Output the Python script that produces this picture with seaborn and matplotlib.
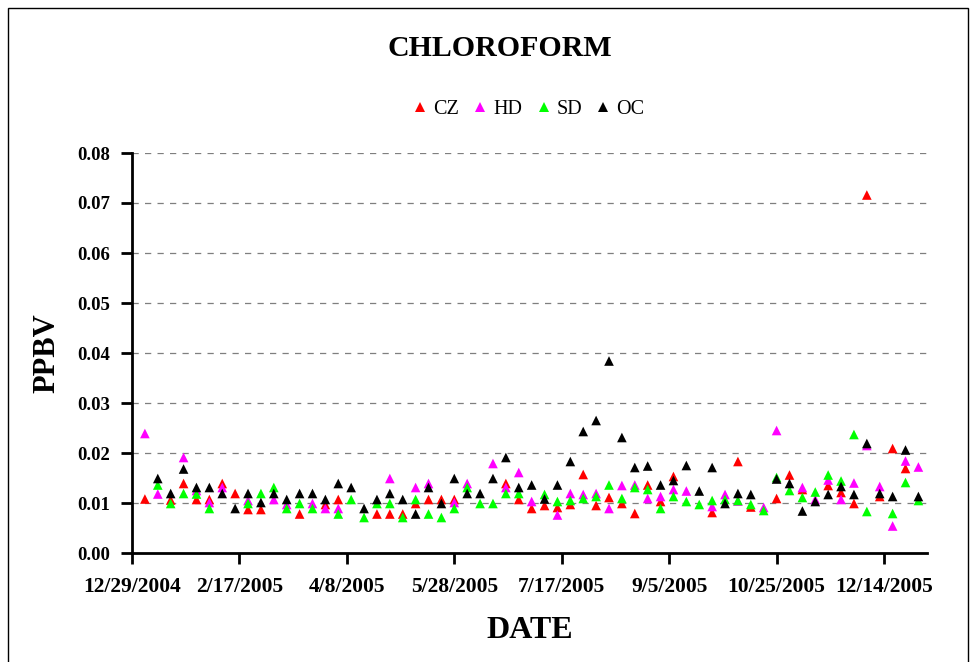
import matplotlib
matplotlib.use("Agg")
import matplotlib.pyplot as plt
from matplotlib.patches import Rectangle
import numpy as np
import pandas as pd
import seaborn as sns

# -------------------------------------------------------------------
# Data: 1-in-6 day samples, Jan 4 2005 .. Dec 30 2005 (PPBV)
# -------------------------------------------------------------------
nan = np.nan
sample_dates = pd.date_range("2005-01-04", periods=61, freq="6D")

cz = [0.0108, nan, 0.0106, 0.0139, 0.0107, 0.0107, 0.0139, 0.0119, 0.0087, 0.0087,
      nan, nan, 0.0078, nan, 0.0097, 0.0107, nan, nan, 0.0078, 0.0078,
      0.0078, 0.0099, 0.0107, 0.0107, 0.0107, nan, nan, nan, 0.0139, 0.0107,
      0.0089, 0.0095, 0.0091, 0.0097, 0.0157, 0.0095, 0.0111, 0.0099, 0.0079, 0.0136,
      0.0103, 0.0153, nan, nan, 0.0081, nan, 0.0183, 0.0092, nan, 0.0109,
      0.0156, 0.0127, nan, 0.0135, 0.0121, 0.0099, 0.0716, 0.0113, 0.0209, 0.0169,
      nan]
hd = [0.0239, 0.0118, nan, 0.0191, 0.0125, 0.0101, 0.0131, nan, 0.0105, nan,
      0.0107, 0.0097, nan, 0.0099, 0.0089, 0.0089, nan, nan, nan, 0.0149,
      nan, 0.0131, 0.0139, nan, 0.0101, 0.0139, nan, 0.0179, 0.0131, 0.0161,
      0.0103, nan, 0.0076, 0.0119, 0.0117, 0.0119, 0.0089, 0.0135, 0.0136, 0.0109,
      0.0113, 0.0127, 0.0124, nan, 0.0093, 0.0117, 0.0104, nan, 0.0091, 0.0245,
      nan, 0.0131, 0.0107, 0.0146, 0.0107, 0.0140, 0.0215, 0.0133, 0.0054, 0.0184,
      0.0172]
sd = [nan, 0.0136, 0.0099, 0.0119, 0.0118, 0.0089, nan, nan, 0.0099, 0.0119,
      0.0131, 0.0089, 0.0099, 0.0089, nan, 0.0078, 0.0107, 0.0071, 0.0099, 0.0099,
      0.0071, 0.0107, 0.0078, 0.0071, 0.0089, 0.0131, 0.0099, 0.0099, 0.0119, 0.0119,
      nan, 0.0117, 0.0103, 0.0105, 0.0109, 0.0113, 0.0136, 0.0109, 0.0131, 0.0127,
      0.0089, 0.0113, 0.0103, 0.0097, 0.0105, 0.0107, 0.0105, 0.0097, 0.0085, 0.0151,
      0.0125, 0.0111, 0.0122, 0.0156, 0.0144, 0.0237, 0.0083, nan, 0.0079, 0.0141,
      0.0105]
oc = [nan, 0.0149, 0.0119, 0.0168, 0.0131, 0.0131, 0.0119, 0.0089, 0.0119, 0.0101,
      0.0119, 0.0107, 0.0119, 0.0119, 0.0107, 0.0139, 0.0131, 0.0089, 0.0107, 0.0119,
      0.0107, 0.0078, 0.0131, 0.0099, 0.0149, 0.0119, 0.0119, 0.0149, 0.0191, 0.0131,
      0.0136, 0.0108, 0.0136, 0.0183, 0.0243, 0.0265, 0.0384, 0.0231, 0.0171, 0.0174,
      0.0136, 0.0145, 0.0175, 0.0124, 0.0171, 0.0099, 0.0119, 0.0117, nan, 0.0148,
      0.0139, 0.0084, 0.0103, 0.0117, 0.0133, 0.0117, 0.0219, 0.0119, 0.0113, 0.0206,
      0.0113]

sites = ["CZ", "HD", "SD", "OC"]
site_colors = {"CZ": "#ff0000", "HD": "#ff00ff", "SD": "#00ff00", "OC": "#000000"}

df = pd.concat(
    [pd.DataFrame({"Date": sample_dates, "Value": vals, "Site": name})
     for name, vals in zip(sites, [cz, hd, sd, oc])],
    ignore_index=True,
).dropna()

tick_dates = pd.date_range("2004-12-29", periods=8, freq="50D")

# -------------------------------------------------------------------
# Plot
# -------------------------------------------------------------------
sns.set_style("white")
plt.rcParams["font.family"] = ["Liberation Serif", "DejaVu Serif"]
plt.rcParams["text.color"] = "black"
plt.rcParams["axes.labelcolor"] = "black"
plt.rcParams["xtick.color"] = "black"
plt.rcParams["ytick.color"] = "black"

fig = plt.figure(figsize=(9.77, 6.62), dpi=100)
ax = fig.add_axes([132 / 977, 1 - 553 / 662, (927 - 132) / 977, 400 / 662])

sns.scatterplot(data=df, x="Date", y="Value", hue="Site", hue_order=sites,
                palette=site_colors, marker="^", s=48, linewidth=0, ax=ax)

ax.set_ylim(0, 0.08)
ax.set_yticks(np.arange(0, 0.081, 0.01))
ax.yaxis.set_major_formatter(plt.FuncFormatter(lambda v, p: f"{v:.2f}"))
ax.set_xlim(pd.Timestamp("2004-12-29"), pd.Timestamp("2006-01-03"))
ax.set_xticks(tick_dates)
ax.set_xticklabels([f"{d.month}/{d.day}/{d.year}" for d in tick_dates])

for v in np.arange(0.01, 0.081, 0.01):
    ax.axhline(v, color="#7f7f7f", linestyle=(0, (5, 5)), linewidth=0.9, zorder=0)

for side in ["top", "right"]:
    ax.spines[side].set_visible(False)
for side in ["left", "bottom"]:
    ax.spines[side].set_color("black")
    ax.spines[side].set_linewidth(2)

ax.tick_params(axis="y", direction="out", length=8, width=2, pad=8,
               labelsize=13.5, left=True)
ax.tick_params(axis="x", direction="out", length=8, width=2, pad=9,
               labelsize=15.5, bottom=True)
for lbl in ax.get_xticklabels() + ax.get_yticklabels():
    lbl.set_fontweight("bold")

ax.set_xlabel("DATE", fontsize=23, fontweight="bold", labelpad=14)
ax.set_ylabel("PPBV", fontsize=22, fontweight="bold", labelpad=11)

handles, labels = ax.get_legend_handles_labels()
ax.legend(handles, labels, loc="center", bbox_to_anchor=(0.5, 1.108), ncol=4,
          frameon=False, fontsize=14.5, handlelength=0.6, handletextpad=0.35,
          columnspacing=0.75, markerscale=1.0)

fig.text(500 / 977, 1 - 48 / 662, "CHLOROFORM", ha="center", va="center",
         fontsize=21.5, fontweight="bold")

fig.patches.append(Rectangle((8 / 977, -0.02), 960 / 977, 1.02 - 8 / 662,
                             transform=fig.transFigure, fill=False,
                             edgecolor="black", linewidth=1))

fig.savefig("out.png", dpi=100)
